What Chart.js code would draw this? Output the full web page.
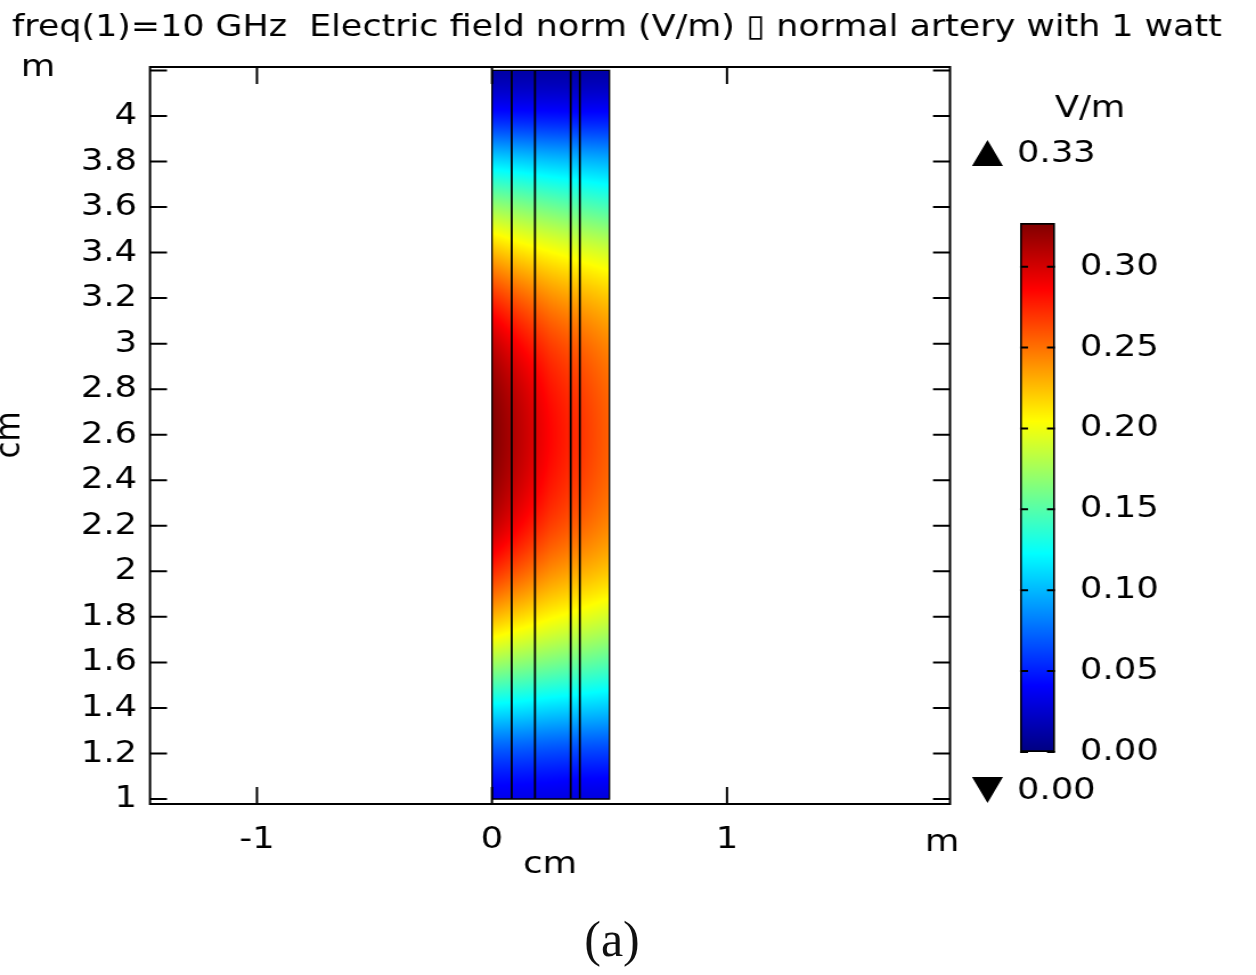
<!DOCTYPE html>
<html>
<head>
<meta charset="utf-8">
<title>Electric field norm - normal artery</title>
<script src="https://cdn.jsdelivr.net/npm/chart.js@4.4.1/dist/chart.umd.min.js"></script>
<style>
  html, body { margin: 0; padding: 0; background: #fff; }
  #wrap { position: relative; width: 1256px; height: 975px; overflow: hidden; background: #fff; }
  .stretch { position: absolute; left: 0; top: 0; transform-origin: 0 0; }
  #caption {
    position: absolute; left: 0; width: 1224px; top: 910px;
    text-align: center; font: 50px "Liberation Serif", serif; color: #111;
  }
</style>
</head>
<body>
<div id="wrap">
  <canvas id="plot" class="stretch" width="1102" height="975" style="width:1102px;height:975px"></canvas>
  <canvas id="legend" class="stretch" width="1102" height="975" style="width:1102px;height:975px"></canvas>
  <div id="caption">(a)</div>
</div>
<script>
// the figure is a horizontally stretched COMSOL export, so draw on a narrower canvas and stretch it
const CANVAS_W = 1102, CANVAS_H = 975;
const STRETCH = 1256 / CANVAS_W;
document.querySelectorAll(".stretch").forEach(c => c.style.transform = `scaleX(${STRETCH})`);
const px = v => v / STRETCH;

const titleText = "freq(1)=10 GHz  Electric field norm (V/m) \u25AF normal artery with 1 watt";

// axis ranges (cm)
const xMin = -1.455, xMax = 1.949;
const yMin = 0.978, yMax = 4.215;
const xTickVals = [-1, 0, 1];
const xTickLabels = ["-1", "0", "1"];
const yTickVals = [1, 1.2, 1.4, 1.6, 1.8, 2, 2.2, 2.4, 2.6, 2.8, 3, 3.2, 3.4, 3.6, 3.8, 4, 4.2];
const yTickLabels = ["1", "1.2", "1.4", "1.6", "1.8", "2", "2.2", "2.4", "2.6", "2.8", "3", "3.2", "3.4", "3.6", "3.8", "4", ""];

// field samples (V/m): columns across the artery wall, rows along its length
const xCols = [0, 0.125, 0.25, 0.375, 0.5];
const yRows = [1.0, 1.2, 1.4, 1.6, 1.8, 2.0, 2.2, 2.4, 2.6, 2.8, 3.0, 3.2, 3.4, 3.6, 3.8, 4.0, 4.2];
const fieldAt0000 = [0.035, 0.066, 0.118, 0.175, 0.228, 0.273, 0.306, 0.322, 0.327, 0.322, 0.305, 0.272, 0.227, 0.172, 0.112, 0.048, 0.012];
const fieldAt0125 = [0.034, 0.065, 0.115, 0.168, 0.216, 0.256, 0.285, 0.301, 0.306, 0.301, 0.284, 0.255, 0.214, 0.165, 0.108, 0.047, 0.012];
const fieldAt0250 = [0.033, 0.063, 0.111, 0.162, 0.206, 0.241, 0.266, 0.280, 0.285, 0.280, 0.266, 0.241, 0.205, 0.158, 0.104, 0.046, 0.012];
const fieldAt0375 = [0.031, 0.061, 0.108, 0.156, 0.198, 0.231, 0.254, 0.266, 0.270, 0.266, 0.254, 0.231, 0.197, 0.151, 0.101, 0.045, 0.012];
const fieldAt0500 = [0.030, 0.060, 0.105, 0.150, 0.190, 0.222, 0.242, 0.252, 0.255, 0.252, 0.242, 0.222, 0.190, 0.145, 0.098, 0.045, 0.012];
const fieldCols = [fieldAt0000, fieldAt0125, fieldAt0250, fieldAt0375, fieldAt0500];

// boundaries between the wall layers (cm)
const layerEdges = [0.084, 0.183, 0.335, 0.374];

// colour legend
const fieldMin = 0, fieldMax = 0.327;
const cbTickVals = [0, 0.05, 0.1, 0.15, 0.2, 0.25, 0.3];
const cbTickLabels = ["0.00", "0.05", "0.10", "0.15", "0.20", "0.25", "0.30"];
const maxLabel = "0.33", minLabel = "0.00";

const FONT = '"DejaVu Sans", sans-serif';
const TEXT_SIZE = 31;
const clamp = (v, a, b) => Math.max(a, Math.min(b, v));

function jet(t) {
  t = clamp(t, 0, 1);
  const r = clamp(1.5 - Math.abs(4 * t - 3), 0, 1);
  const g = clamp(1.5 - Math.abs(4 * t - 2), 0, 1);
  const b = clamp(1.5 - Math.abs(4 * t - 1), 0, 1);
  return [Math.round(r * 255), Math.round(g * 255), Math.round(b * 255)];
}

// smooth along the rows, linear across the columns
function sampleColumn(col, y) {
  let j = 0;
  while (j < yRows.length - 2 && y > yRows[j + 1]) j++;
  const t = clamp((y - yRows[j]) / (yRows[j + 1] - yRows[j]), 0, 1);
  const p0 = col[Math.max(j - 1, 0)], p1 = col[j], p2 = col[j + 1], p3 = col[Math.min(j + 2, col.length - 1)];
  return 0.5 * (2 * p1 + (-p0 + p2) * t + (2 * p0 - 5 * p1 + 4 * p2 - p3) * t * t + (-p0 + 3 * p1 - 3 * p2 + p3) * t * t * t);
}

function fieldAt(x, y) {
  let i = 0;
  while (i < xCols.length - 2 && x > xCols[i + 1]) i++;
  const t = clamp((x - xCols[i]) / (xCols[i + 1] - xCols[i]), 0, 1);
  return sampleColumn(fieldCols[i], y) * (1 - t) + sampleColumn(fieldCols[i + 1], y) * t;
}

const surfacePlugin = {
  id: "surface",
  beforeDatasetsDraw(chart) {
    const { ctx, scales: { x, y } } = chart;
    const left = Math.round(x.getPixelForValue(xCols[0]));
    const right = Math.round(x.getPixelForValue(xCols[xCols.length - 1]));
    const top = Math.round(y.getPixelForValue(yRows[yRows.length - 1]));
    const bottom = Math.round(y.getPixelForValue(yRows[0]));
    const w = right - left, h = bottom - top;
    const img = ctx.createImageData(w, h);
    for (let r = 0; r < h; r++) {
      const yv = y.getValueForPixel(top + r + 0.5);
      for (let c = 0; c < w; c++) {
        const xv = x.getValueForPixel(left + c + 0.5);
        const [R, G, B] = jet(fieldAt(xv, yv) / fieldMax);
        const k = (r * w + c) * 4;
        img.data[k] = R; img.data[k + 1] = G; img.data[k + 2] = B; img.data[k + 3] = 255;
      }
    }
    ctx.putImageData(img, left, top);
  }
};

const framePlugin = {
  id: "frame",
  afterDraw(chart) {
    const { ctx, chartArea: a, scales: { x, y } } = chart;
    ctx.save();
    ctx.strokeStyle = "#000";
    ctx.lineWidth = 2;
    ctx.strokeRect(a.left, a.top, a.right - a.left, a.bottom - a.top);
    ctx.beginPath();
    yTickVals.forEach(v => {
      const p = y.getPixelForValue(v);
      ctx.moveTo(a.left, p); ctx.lineTo(a.left + px(17), p);
      ctx.moveTo(a.right, p); ctx.lineTo(a.right - px(17), p);
    });
    xTickVals.forEach(v => {
      const p = x.getPixelForValue(v);
      ctx.moveTo(p, a.bottom); ctx.lineTo(p, a.bottom - 17);
      ctx.moveTo(p, a.top); ctx.lineTo(p, a.top + 17);
    });
    ctx.stroke();

    ctx.fillStyle = "#000";
    ctx.textBaseline = "middle";
    ctx.textAlign = "left";
    ctx.font = "30.6px " + FONT;
    ctx.fillText(titleText, px(12), 28);
    ctx.font = TEXT_SIZE + "px " + FONT;
    ctx.textAlign = "center";
    ctx.fillText("m", px(38), 68);
    ctx.fillText("cm", px(550), 865);
    ctx.fillText("m", px(942), 843);
    ctx.translate(px(10), 435);
    ctx.rotate(-Math.PI / 2);
    ctx.fillText("cm", 0, 0);
    ctx.restore();
  }
};

const lineStyle = { borderColor: "#000", borderWidth: 1.8, pointRadius: 0, showLine: true, fill: false };
const layerSets = layerEdges.map(e => ({
  ...lineStyle,
  data: [{ x: e, y: yRows[0] }, { x: e, y: yRows[yRows.length - 1] }]
}));
const outlineSet = {
  ...lineStyle,
  borderWidth: 1.3,
  data: [
    { x: xCols[0], y: yRows[0] }, { x: xCols[xCols.length - 1], y: yRows[0] },
    { x: xCols[xCols.length - 1], y: yRows[yRows.length - 1] }, { x: xCols[0], y: yRows[yRows.length - 1] },
    { x: xCols[0], y: yRows[0] }
  ]
};

const tickFont = { family: FONT, size: TEXT_SIZE };

new Chart(document.getElementById("plot"), {
  type: "scatter",
  data: { datasets: [outlineSet, ...layerSets] },
  options: {
    responsive: false,
    animation: false,
    devicePixelRatio: 1,
    layout: { padding: { left: 0, right: CANVAS_W - px(950), top: 67, bottom: 0 } },
    plugins: { legend: { display: false }, tooltip: { enabled: false } },
    scales: {
      x: {
        type: "linear", min: xMin, max: xMax,
        grid: { display: false, drawTicks: false }, border: { display: false },
        afterBuildTicks: s => { s.ticks = xTickVals.map(v => ({ value: v })); },
        afterFit: s => { s.height = CANVAS_H - 804; },
        ticks: { callback: (v, i) => xTickLabels[i], font: tickFont, color: "#000", padding: 17, maxRotation: 0, autoSkip: false }
      },
      y: {
        type: "linear", min: yMin, max: yMax,
        grid: { display: false, drawTicks: false }, border: { display: false },
        afterBuildTicks: s => { s.ticks = yTickVals.map(v => ({ value: v })); },
        afterFit: s => { s.width = px(150); },
        ticks: { callback: (v, i) => yTickLabels[i], font: tickFont, color: "#000", padding: px(13), autoSkip: false }
      }
    }
  },
  plugins: [surfacePlugin, framePlugin]
});

// colour legend as its own bar chart
const jetStops = [0, 0.125, 0.375, 0.625, 0.875, 1];
function legendFill(c) {
  const { chart } = c;
  const yScale = chart.scales.y;
  const p0 = yScale ? yScale.getPixelForValue(fieldMin) : NaN;
  const p1 = yScale ? yScale.getPixelForValue(fieldMax) : NaN;
  if (!isFinite(p0) || !isFinite(p1)) return "#00f";
  const g = chart.ctx.createLinearGradient(0, p0, 0, p1);
  jetStops.forEach(s => g.addColorStop(s, `rgb(${jet(s).join(",")})`));
  return g;
}

const legendPlugin = {
  id: "legendMarks",
  afterDraw(chart) {
    const { ctx, chartArea: a, scales: { y } } = chart;
    ctx.save();
    ctx.strokeStyle = "#000";
    ctx.lineWidth = 2;
    ctx.beginPath();
    cbTickVals.forEach(v => {
      const p = y.getPixelForValue(v);
      ctx.moveTo(a.left, p); ctx.lineTo(a.left + px(8), p);
      ctx.moveTo(a.right, p); ctx.lineTo(a.right - px(8), p);
    });
    ctx.stroke();

    ctx.fillStyle = "#000";
    ctx.beginPath();
    ctx.moveTo(px(972), 166); ctx.lineTo(px(1003), 166); ctx.lineTo(px(987.5), 140); ctx.closePath();
    ctx.moveTo(px(972), 777); ctx.lineTo(px(1003), 777); ctx.lineTo(px(987.5), 803); ctx.closePath();
    ctx.fill();

    ctx.font = TEXT_SIZE + "px " + FONT;
    ctx.textBaseline = "middle";
    ctx.textAlign = "left";
    ctx.fillText(maxLabel, px(1017), 154);
    ctx.fillText(minLabel, px(1017), 791);
    ctx.textAlign = "center";
    ctx.fillText("V/m", px(1090), 109);
    ctx.restore();
  }
};

new Chart(document.getElementById("legend"), {
  type: "bar",
  data: {
    labels: ["E"],
    datasets: [{
      data: [[fieldMin, fieldMax]],
      backgroundColor: legendFill,
      borderColor: "#000",
      borderWidth: 2,
      borderSkipped: false,
      barPercentage: 1,
      categoryPercentage: 1
    }]
  },
  options: {
    responsive: false,
    animation: false,
    devicePixelRatio: 1,
    layout: { padding: { left: px(1020), right: 0, top: 223, bottom: CANVAS_H - 752 } },
    plugins: { legend: { display: false }, tooltip: { enabled: false } },
    scales: {
      x: { display: false },
      y: {
        position: "right", min: fieldMin, max: fieldMax,
        grid: { display: false, drawTicks: false }, border: { display: false },
        afterBuildTicks: s => { s.ticks = cbTickVals.map(v => ({ value: v })); },
        afterFit: s => { s.width = CANVAS_W - px(1055); },
        ticks: { callback: (v, i) => cbTickLabels[i], font: tickFont, color: "#000", padding: px(1080) - px(1055), autoSkip: false }
      }
    }
  },
  plugins: [legendPlugin]
});
</script>
</body>
</html>
